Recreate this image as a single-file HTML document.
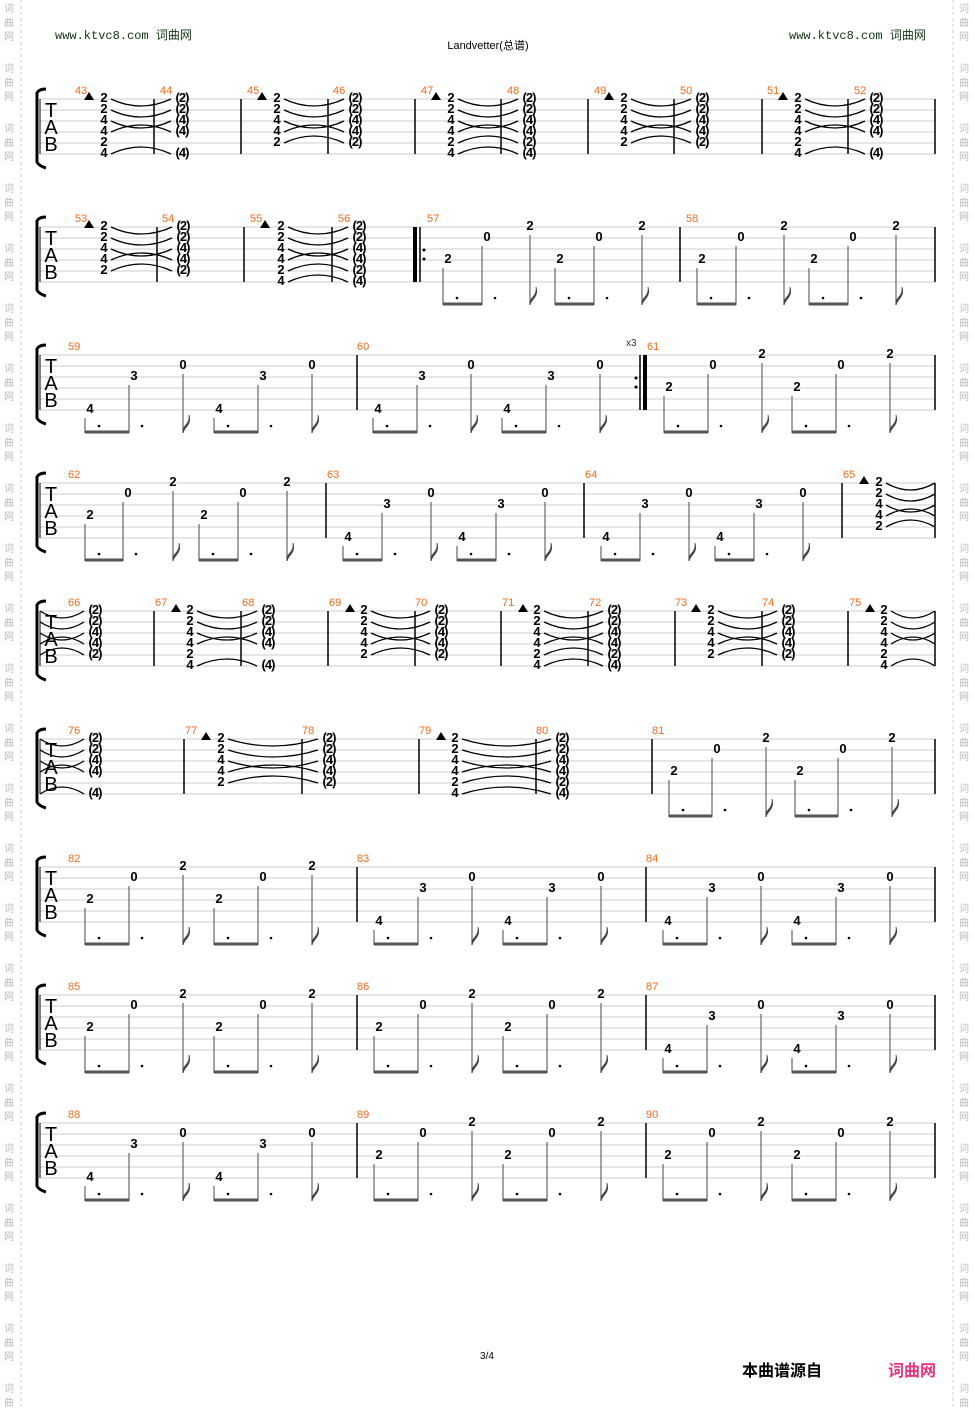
<!DOCTYPE html>
<html><head><meta charset="utf-8"><style>
html,body{margin:0;padding:0;background:#fff;}
svg{display:block;}
</style></head><body>
<svg id="s" width="975" height="1408" xmlns="http://www.w3.org/2000/svg" font-family="Liberation Sans, sans-serif"></svg>
<script>
const S=document.getElementById('s');let h='';
function T(x,y,t,o){h+=`<text x="${x}" y="${y}" ${o||''}>${t}</text>`;}
function L(x1,y1,x2,y2,c,w){h+=`<line x1="${x1}" y1="${y1}" x2="${x2}" y2="${y2}" stroke="${c}" stroke-width="${w}"/>`;}
// watermark
for(let y=0;y<1408;y+=60){for(const [dy,ch] of [[8,'词'],[22,'曲'],[36,'网']]){
 T(9,y+dy+4,ch,'font-size="10" fill="#bbb" text-anchor="middle" font-family="Noto Sans CJK SC, sans-serif"');
 T(964,y+dy+4,ch,'font-size="10" fill="#bbb" text-anchor="middle" font-family="Noto Sans CJK SC, sans-serif"');}}
h+=`<line x1="21" y1="0" x2="21" y2="1408" stroke="#ccc" stroke-dasharray="3,3"/><line x1="953" y1="0" x2="953" y2="1408" stroke="#ccc" stroke-dasharray="3,3"/>`;
T(55,39,'www.ktvc8.com <tspan font-family="Noto Sans CJK SC,sans-serif">词曲网</tspan>','font-size="12" fill="#113311" font-family="Liberation Mono, monospace"');
T(789,39,'www.ktvc8.com <tspan font-family="Noto Sans CJK SC,sans-serif">词曲网</tspan>','font-size="12" fill="#113311" font-family="Liberation Mono, monospace"');
T(488,49,'Landvetter(<tspan font-family="Noto Sans CJK SC,sans-serif">总谱</tspan>)','font-size="11" text-anchor="middle"');
T(487,1359,'3/4','font-size="10" text-anchor="middle"');
T(742,1376,'本曲谱源自','font-size="16" font-weight="bold" font-family="Noto Sans CJK SC, sans-serif"');
T(888,1376,'词曲网','font-size="16" font-weight="bold" fill="#e8317a" font-family="Noto Sans CJK SC, sans-serif"');

const num='font-size="13" font-weight="bold" text-anchor="middle" dominant-baseline="central"';
function staff(top,bars){
 for(let i=0;i<6;i++)L(40,top+i*11,935,top+i*11,'#ccc',1);
 // bracket
 h+=`<path d="M46,${top-10} Q39,${top-10} 37,${top-6} L37,${top+63} Q39,${top+67} 46,${top+69}" fill="none" stroke="#000" stroke-width="3"/>`;
 L(40,top,40,top+55,'#000',1);
 T(51,top+18,'T','font-size="20" text-anchor="middle"');
 T(51,top+35,'A','font-size="20" text-anchor="middle"');
 T(51,top+52,'B','font-size="20" text-anchor="middle"');
 bars.forEach(b=>L(b,top,b,top+55,'#000',1.5));
}
function lab(top,x,n){T(x,top-5,n,'font-size="11" fill="#f26a1b"');}
const TYPES={T6:[[2,2,4,4,2,4],[0,1,2,3,4,5],[]],T5:[[2,2,4,4,2],[0,1,2,3,4],[]],T45:[[2,2,4,4,2,4],[0,1,2,3,5],[4]]};
function ties(top,x1,x2,strs){strs.forEach(s=>{const y=top+s*11;const d=s<=2?14:-14;
 h+=`<path d="M${x1},${y} Q${(x1+x2)/2},${y+d} ${x2},${y}" fill="none" stroke="#000" stroke-width="1.3"/>`;});}
function chord(top,tri,nx,type,px,from){
 const [ns,ss]=TYPES[type];
 if(tri!=null){h+=`<path d="M${tri-5},${top+1} L${tri},${top-7} L${tri+5},${top+1}Z" fill="#000"/>`;
 ns.forEach((n,i)=>T(nx,top+i*11-1.5,n,num));}
 if(px!=null){ss.forEach(s=>T(px,top+s*11-1.5,'('+[2,2,4,4,2,4][s]+')',num+' letter-spacing="-1"'));}
 const x1=tri!=null?nx+7:40, x2=px!=null?px-11:935;
 ties(top,x1,x2,ss);
}
function rhythm(top,xs,pat){
 const P=pat=='A'?[[3,1,0],[2,0,2]]:[[5,2,1],[4,3,0]];
 const bot=top+78;
 for(let g=0;g<2;g++){
  const a=xs[g*3],b=xs[g*3+1],c=xs[g*3+2];
  [a,b,c].forEach((x,i)=>T(x,top+P[0][i]*11-1.5,P[1][i],num));
  const s1=a-5,s2=b-5;
  L(s1,top+P[0][0]*11+8,s1,bot,'#666',1.2);
  L(s2,top+P[0][1]*11+8,s2,bot,'#666',1.2);
  h+=`<rect x="${s1}" y="${bot-2.5}" width="${s2-s1}" height="3" fill="#555"/>`;
  h+=`<circle cx="${s1+14}" cy="${top+71}" r="1.3" fill="#000"/><circle cx="${s2+13}" cy="${top+71}" r="1.3" fill="#000"/>`;
  L(c,top+P[0][2]*11+8,c,bot,'#666',1.2);
  h+=`<path d="M${c},${bot} C${c+1},${bot-6} ${c+9},${bot-8} ${c+6},${bot-18} C${c+7},${bot-10} ${c+2},${bot-8} ${c},${bot-4}Z" fill="#444" stroke="#444" stroke-width="0.8"/>`;
 }
}
const XA=[90,134,183,219,263,312],XB1=[379,423,472,508,552,601],XC=[668,712,761,797,841,890];
// sys1
let t=99;staff(t,[154,241,328,415,501,588,674,762,848,935]);
[[43,75],[44,160],[45,247],[46,333],[47,421],[48,507],[49,594],[50,680],[51,767],[52,854]].forEach(a=>lab(t,a[1],a[0]));
chord(t,89,104,'T45',182);chord(t,262,277,'T5',355);chord(t,436,451,'T6',529);chord(t,609,624,'T5',702);chord(t,783,798,'T45',876);
// sys2
t=227;staff(t,[157,244,332,420,680,935]);
h+=`<rect x="413" y="${t}" width="4" height="55" fill="#000"/><circle cx="424" cy="${t+23}" r="1.5"/><circle cx="424" cy="${t+32}" r="1.5"/>`;
[[53,75],[54,162],[55,250],[56,338],[57,427],[58,686]].forEach(a=>lab(t,a[1],a[0]));
chord(t,89,104,'T5',183);chord(t,265,281,'T6',359);
rhythm(t,[448,487,530,560,599,642],'A');rhythm(t,[702,741,784,814,853,896],'A');
// sys3
t=355;staff(t,[357,640,935]);
h+=`<rect x="643" y="${t}" width="4" height="55" fill="#000"/><circle cx="636" cy="${t+23}" r="1.5"/><circle cx="636" cy="${t+32}" r="1.5"/>`;
T(626,t-9,'x3','font-size="10" fill="#333"');
[[59,68],[60,357],[61,647]].forEach(a=>lab(t,a[1],a[0]));
rhythm(t,XA,'B');rhythm(t,[378,422,471,507,551,600],'B');rhythm(t,[669,713,762,797,841,890],'A');
// sys4
t=483;staff(t,[326,584,842,935]);
[[62,68],[63,327],[64,585],[65,843]].forEach(a=>lab(t,a[1],a[0]));
rhythm(t,[90,128,173,204,243,287],'A');rhythm(t,[348,387,431,462,501,545],'B');rhythm(t,[606,645,689,720,759,803],'B');
chord(t,864,879,'T5',null);
// sys5
t=611;staff(t,[154,241,328,415,501,588,675,762,848,935]);
[[66,68],[67,155],[68,242],[69,329],[70,415],[71,502],[72,589],[73,675],[74,762],[75,849]].forEach(a=>lab(t,a[1],a[0]));
chord(t,null,0,'T5',95);chord(t,176,190,'T45',268);chord(t,350,364,'T5',441);chord(t,523,537,'T6',614);chord(t,696,711,'T5',788);chord(t,870,884,'T45',null);
// sys6
t=739;staff(t,[184,302,419,536,652,935]);
[[76,68],[77,185],[78,302],[79,419],[80,536],[81,652]].forEach(a=>lab(t,a[1],a[0]));
chord(t,null,0,'T45',95);chord(t,206,221,'T5',329);chord(t,441,455,'T6',562);
rhythm(t,[674,717,766,800,843,892],'A');
// sys7-9
t=867;staff(t,[357,646,935]);[[82,68],[83,357],[84,646]].forEach(a=>lab(t,a[1],a[0]));
rhythm(t,XA,'A');rhythm(t,XB1,'B');rhythm(t,XC,'B');
t=995;staff(t,[357,646,935]);[[85,68],[86,357],[87,646]].forEach(a=>lab(t,a[1],a[0]));
rhythm(t,XA,'A');rhythm(t,XB1,'A');rhythm(t,XC,'B');
t=1123;staff(t,[357,646,935]);[[88,68],[89,357],[90,646]].forEach(a=>lab(t,a[1],a[0]));
rhythm(t,XA,'B');rhythm(t,XB1,'A');rhythm(t,XC,'A');
S.innerHTML=h;
</script>
</body></html>
